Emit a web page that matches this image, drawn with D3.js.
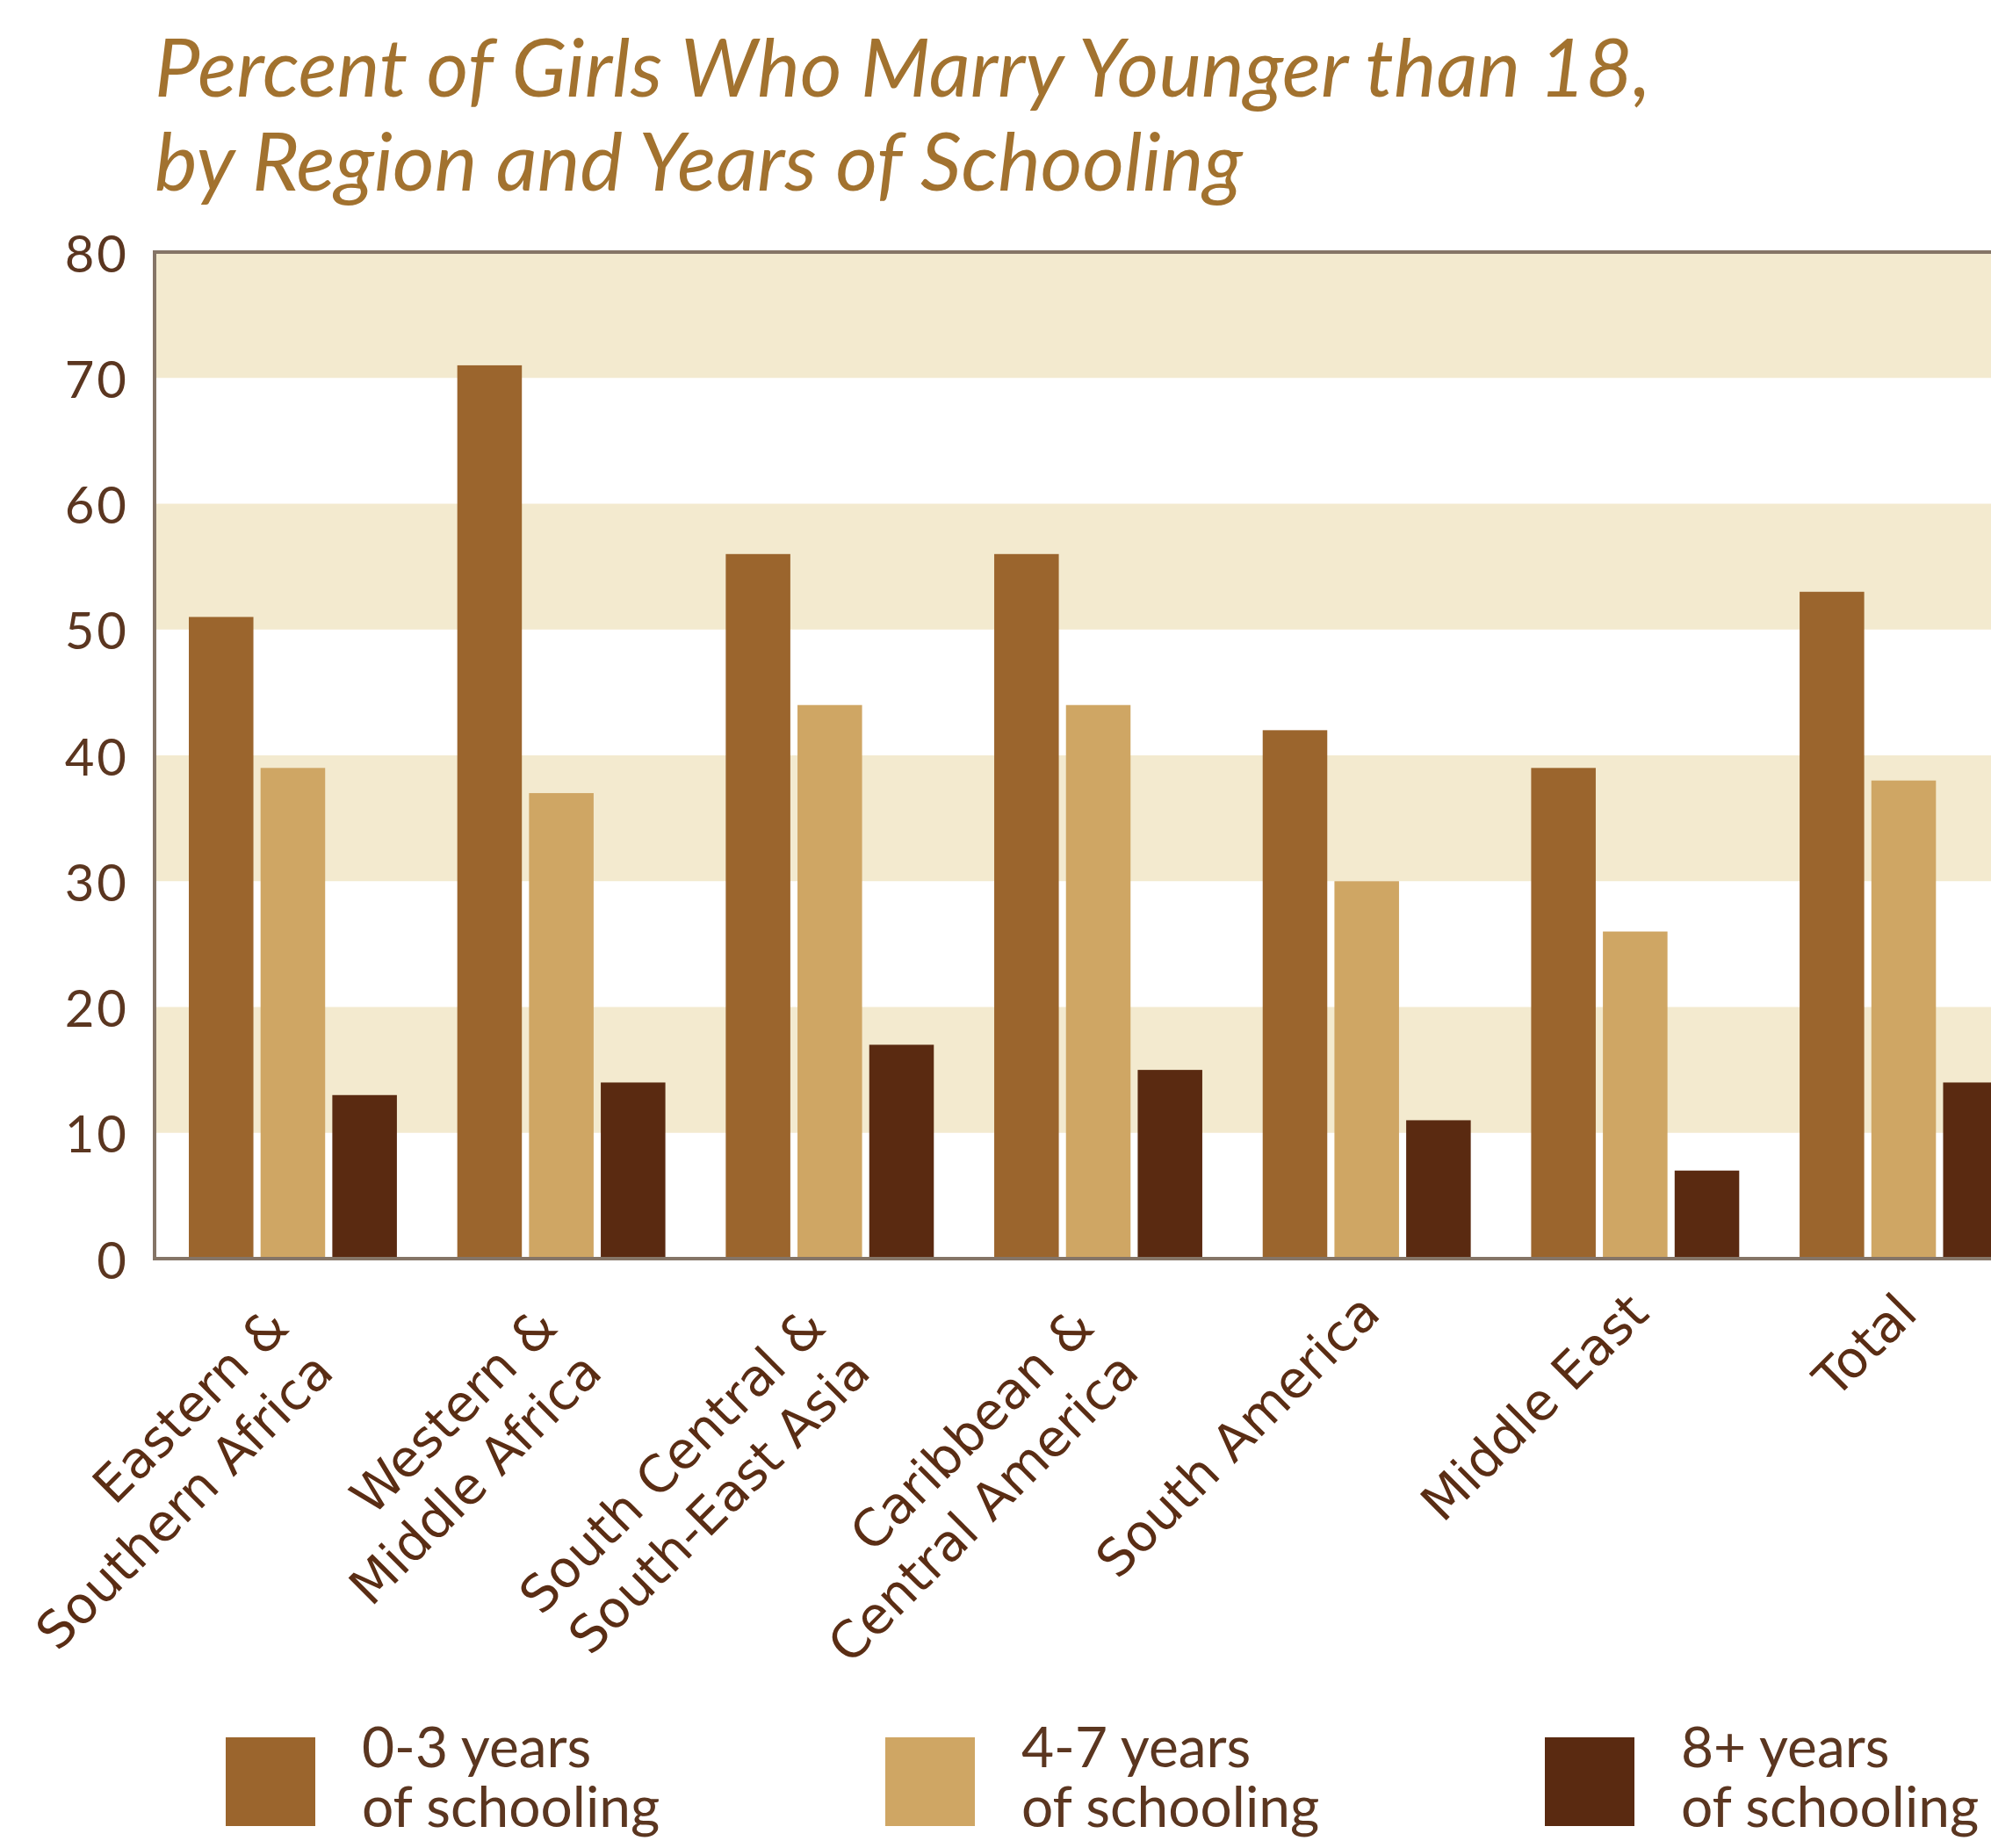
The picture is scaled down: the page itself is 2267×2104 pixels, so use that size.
<!DOCTYPE html>
<html><head><meta charset="utf-8">
<script src="https://cdn.jsdelivr.net/npm/d3@7"></script>
<style>html,body{margin:0;padding:0;background:#fff;overflow:hidden}</style>
</head><body>
<svg id="chart" width="2267" height="2104" xmlns="http://www.w3.org/2000/svg"></svg>
<script>
// ---- data ----
const categories = ["Eastern & Southern Africa", "Western & Middle Africa", "South Central & South-East Asia",
  "Caribbean & Central America", "South America", "Middle East", "Total"];
const categoryLabelLines = [["Eastern &", "Southern Africa"], ["Western &", "Middle Africa"],
  ["South Central &", "South-East Asia"], ["Caribbean &", "Central America"], ["South America"], ["Middle East"], ["Total"]];
const seriesKeys = ["0-3 years of schooling", "4-7 years of schooling", "8+ years of schooling"];
const legendLabelLines = [["0-3 years", "of schooling"], ["4-7 years", "of schooling"], ["8+ years", "of schooling"]];
const years0to3 = [51, 71, 56, 56, 42, 39, 53];
const years4to7 = [39, 37, 44, 44, 30, 26, 38];
const years8plus = [13, 14, 17, 15, 11, 7, 14];
const yTickValues = [0, 10, 20, 30, 40, 50, 60, 70, 80];
const shadedBands = [[10, 20], [30, 40], [50, 60], [70, 80]];
const titleLines = ["Percent of Girls Who Marry Younger than 18,", "by Region and Years of Schooling"];

// ---- style / layout ----
const seriesValues = [years0to3, years4to7, years8plus];
const colors = ["#9b652d", "#cfa664", "#5a2a11"];
const plot = {left: 176, top: 287, bottom: 1433, right: 2325};
const svg = d3.select("#chart");

const y = d3.scaleLinear().domain([0, 80]).range([plot.bottom, plot.top]);
const x0 = d3.scaleBand().domain(categories).range([plot.left, plot.right])
  .paddingInner(0.225).paddingOuter(0.1276);
const x1 = d3.scaleBand().domain(seriesKeys).range([0, x0.bandwidth()]).paddingInner(0.1);
const color = d3.scaleOrdinal().domain(seriesKeys).range(colors);

// background bands
svg.append("g").selectAll("rect").data(shadedBands).join("rect")
  .attr("x", plot.left).attr("width", plot.right - plot.left)
  .attr("y", d => y(d[1])).attr("height", d => y(d[0]) - y(d[1]))
  .attr("fill", "#f3eacf");

// bars
const rows = categories.map((c, i) => ({cat: c, vals: seriesKeys.map((k, j) => ({key: k, value: seriesValues[j][i]}))}));
svg.append("g").selectAll("g").data(rows).join("g")
  .attr("transform", d => `translate(${x0(d.cat)},0)`)
  .selectAll("rect").data(d => d.vals).join("rect")
  .attr("x", d => x1(d.key)).attr("width", x1.bandwidth())
  .attr("y", d => y(d.value)).attr("height", d => y(0) - y(d.value))
  .attr("fill", d => color(d.key));

// frame
svg.append("rect")
  .attr("x", plot.left).attr("y", plot.top)
  .attr("width", plot.right - plot.left).attr("height", plot.bottom - plot.top)
  .attr("fill", "none").attr("stroke", "#857567").attr("stroke-width", 4);

// y axis
const yAxis = svg.append("g").attr("transform", `translate(${plot.left},0)`)
  .call(d3.axisLeft(y).tickValues(yTickValues).tickSize(0).tickPadding(29));
yAxis.select(".domain").remove();
yAxis.selectAll("text")
  .attr("font-family", "Lato, 'Open Sans', sans-serif").attr("font-size", 58)
  .attr("letter-spacing", 3).attr("fill", "#5b3620").attr("dy", "0.38em");

// x labels
const xl = svg.append("g").selectAll("g").data(categories).join("g")
  .attr("transform", (c, i) => {
    const cx = x0(c) + x0.bandwidth() / 2;
    const two = categoryLabelLines[i].length > 1;
    return `translate(${cx + (two ? -2 : 18)},${two ? 1514 : 1498}) rotate(-45)`;
  });
xl.append("text")
  .attr("text-anchor", "end").attr("font-family", "'DejaVu Sans', Verdana, sans-serif")
  .attr("font-size", 58).attr("fill", "#5a2d14")
  .selectAll("tspan").data((c, i) => categoryLabelLines[i]).join("tspan")
  .attr("x", 0).attr("dy", (d, j) => j === 0 ? 0 : 72).text(d => d);

// title
const title = svg.append("g");
const tLines = title.selectAll("text").data(titleLines).join("text")
  .attr("x", 0).attr("y", (d, i) => i === 0 ? 110 : 217)
  .attr("font-family", "Lato, 'Open Sans', sans-serif").attr("font-style", "italic")
  .attr("font-size", 92).attr("fill", "#a2722f").text(d => d);
const w1 = tLines.nodes()[0].getComputedTextLength();
const sx = 1704 / w1;
title.attr("transform", `translate(176,0) scale(${sx},1)`);

// legend
const legend = svg.append("g").selectAll("g").data(seriesKeys).join("g")
  .attr("transform", (d, i) => `translate(${257 + i * 751},1978)`);
legend.append("rect").attr("width", 102).attr("height", 101).attr("fill", d => color(d));
legend.append("text")
  .attr("font-family", "Lato, 'Open Sans', sans-serif").attr("font-size", 64).attr("fill", "#5b3620")
  .selectAll("tspan").data((d, i) => legendLabelLines[i]).join("tspan")
  .attr("x", 155).attr("y", (d, j) => j === 0 ? 34 : 102).text(d => d);
</script>
</body></html>
